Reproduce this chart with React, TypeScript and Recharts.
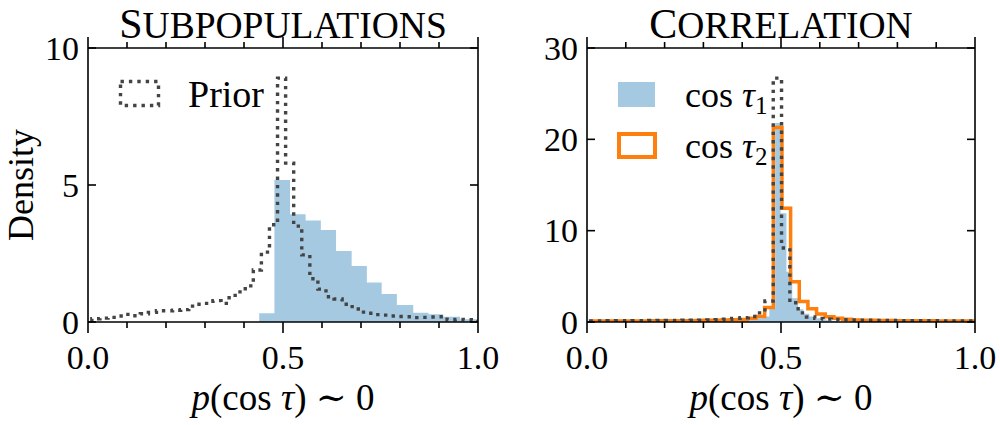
import React from 'react';
import { ComposedChart, Area, Line, XAxis, YAxis } from 'recharts';

const FONT = '"Liberation Serif", "DejaVu Serif", serif';
const BLUE_FILL = '#a5c9e1';
const ORANGE = '#ff7f0e';
const PRIOR_GREY = '#444444';

// ---------- shared ticks ----------
const xTicks = [0, 0.1, 0.2, 0.3, 0.4, 0.5, 0.6, 0.7, 0.8, 0.9, 1.0];
const xMajorTicks = [0, 0.5, 1.0];
const xTickLabels = ['0.0', '0.5', '1.0'];
const xAxisLabel = ['p', '(cos ', 'τ', ') ∼ 0'];

// ---------- left panel: Subpopulations ----------
const subTitle = ['S', 'UBPOPULATIONS'];
const subYTicks = [0, 5, 10];
const subYTickLabels = ['0', '5', '10'];
const subLegend = ['Prior'];

const subPosteriorEdges = [0.439, 0.478, 0.518, 0.558, 0.597, 0.636, 0.676, 0.715, 0.753, 0.792, 0.834, 0.873, 0.911, 0.954, 1.0];
const subPosteriorDensity = [0.32, 5.18, 3.93, 3.7, 3.36, 2.59, 2.04, 1.44, 1.02, 0.62, 0.34, 0.28, 0.19, 0.1];

const subPriorEdges = [
  0.0099, 0.0306, 0.0513, 0.072, 0.0927, 0.1134, 0.1341, 0.1548, 0.1755, 0.1962,
  0.2169, 0.2376, 0.2583, 0.279, 0.2997, 0.3204, 0.3411, 0.3618, 0.3825, 0.4032,
  0.4239, 0.4446, 0.4653, 0.486, 0.5067, 0.5274, 0.5481, 0.5688, 0.5895, 0.6102,
  0.6309, 0.6516, 0.6723, 0.693, 0.7137, 0.7344, 0.7551, 0.7758, 0.7965, 0.8172,
  0.8379, 0.8586, 0.8793, 0.9, 0.9207, 0.9414, 0.9621, 0.9828, 1.0,
];
const subPriorDensity = [
  0.12, 0.14, 0.17, 0.22, 0.28, 0.23, 0.3, 0.35, 0.41, 0.41,
  0.43, 0.45, 0.58, 0.65, 0.68, 0.78, 0.68, 0.97, 1.1, 1.32,
  1.9, 2.55, 3.55, 8.9, 5.8, 3.5, 2.45, 1.58, 1.2, 0.92,
  0.84, 0.65, 0.56, 0.36, 0.32, 0.27, 0.25, 0.22, 0.2, 0.19,
  0.16, 0.17, 0.18, 0.19, 0.08, 0.09, 0.08, 0.07,
];

// ---------- right panel: Correlation ----------
const corTitle = ['C', 'ORRELATION'];
const corYTicks = [0, 10, 20, 30];
const corYTickLabels = ['0', '10', '20', '30'];
const corLegend = ['1', '2'];

const corTau1Edges = [0.396, 0.411, 0.426, 0.441, 0.455, 0.47, 0.485, 0.499, 0.514, 0.529, 0.544, 0.558, 0.573, 0.588, 0.602, 0.617, 0.632, 0.647];
const corTau1Density = [0.2, 0.25, 0.3, 0.4, 0.6, 1.5, 21.8, 11.9, 5.5, 2.6, 1.4, 0.9, 0.6, 0.4, 0.3, 0.2, 0.15];

const corTau2Edges = [
  0.0119, 0.0342, 0.0565, 0.0788, 0.1011, 0.1234, 0.1457, 0.168, 0.1903, 0.2126,
  0.2349, 0.2572, 0.2795, 0.3018, 0.3241, 0.3464, 0.3687, 0.391, 0.4133, 0.4356,
  0.4579, 0.4802, 0.5025, 0.5248, 0.5471, 0.5694, 0.5917, 0.614, 0.6363, 0.6586,
  0.6809, 0.7032, 0.7255, 0.7478, 0.7701, 0.7924, 0.8147, 0.837, 0.8593, 0.8816,
  0.9039, 0.9262, 0.9485, 0.9708, 0.9931, 1.0,
];
const corTau2Density = [
  0.1, 0.1, 0.12, 0.1, 0.12, 0.12, 0.12, 0.13, 0.14, 0.14,
  0.15, 0.15, 0.16, 0.18, 0.2, 0.22, 0.25, 0.28, 0.4, 0.6,
  1.6, 21.3, 12.45, 4.4, 2.25, 1.45, 0.88, 0.58, 0.4, 0.3,
  0.22, 0.2, 0.18, 0.17, 0.16, 0.15, 0.15, 0.14, 0.13, 0.13,
  0.12, 0.12, 0.12, 0.11, 0.1,
];

const corPriorEdges = [
  0.0092, 0.0306, 0.052, 0.0734, 0.0948, 0.1162, 0.1376, 0.159, 0.1804, 0.2018,
  0.2232, 0.2446, 0.266, 0.2874, 0.3088, 0.3302, 0.3516, 0.373, 0.3944, 0.4158,
  0.4372, 0.4586, 0.48, 0.5014, 0.5228, 0.5442, 0.5656, 0.587, 0.6084, 0.6298,
  0.6512, 0.6726, 0.694, 0.7154, 0.7368, 0.7582, 0.7796, 0.801, 0.8224, 0.8438,
  0.8652, 0.8866, 0.908, 0.9294, 0.9508, 0.9722, 0.9936,
];
const corPriorDensity = [
  0.12, 0.12, 0.13, 0.14, 0.14, 0.15, 0.15, 0.16, 0.17, 0.18,
  0.18, 0.19, 0.2, 0.21, 0.22, 0.25, 0.3, 0.4, 0.47, 0.6,
  1.0, 2.3, 26.7, 8.1, 2.1, 1.0, 0.55, 0.4, 0.32, 0.28,
  0.24, 0.22, 0.2, 0.19, 0.18, 0.17, 0.16, 0.15, 0.15, 0.14,
  0.13, 0.13, 0.12, 0.12, 0.12, 0.11,
];

// ---------- helpers ----------
type Row = { x: number; [k: string]: number };

function stepRows(key: string, edges: number[], values: number[], closed: boolean): Row[] {
  const rows: Row[] = [];
  if (closed) rows.push({ x: edges[0], [key]: 0 });
  values.forEach((v, i) => rows.push({ x: edges[i], [key]: v }));
  rows.push({ x: edges[edges.length - 1], [key]: values[values.length - 1] });
  if (closed) rows.push({ x: edges[edges.length - 1], [key]: 0 });
  return rows;
}

const isMajor = (v: number) => xMajorTicks.findIndex((m) => Math.abs(m - v) < 1e-6);

const XTickBottom = (props: any) => {
  const { x, y, payload } = props;
  const idx = isMajor(payload.value);
  return (
    <g>
      <line x1={x} y1={y} x2={x} y2={y + (idx >= 0 ? 11 : 6)} stroke="#000" strokeWidth={1.6} />
      {idx >= 0 && (
        <text x={x} y={y + 47} textAnchor="middle" style={{ fontFamily: FONT }} fontSize={34} fill="#000">
          {xTickLabels[idx]}
        </text>
      )}
    </g>
  );
};

const XTickTop = (props: any) => {
  const { x, y, payload } = props;
  const idx = isMajor(payload.value);
  return <line x1={x} y1={y} x2={x} y2={y - (idx >= 0 ? 11 : 6)} stroke="#000" strokeWidth={1.6} />;
};

const makeYTickLeft = (ticks: number[], labels: string[]) => (props: any) => {
  const { x, y, payload } = props;
  const idx = ticks.indexOf(payload.value);
  return (
    <g>
      <line x1={x} y1={y} x2={x + 8} y2={y} stroke="#000" strokeWidth={1.6} />
      <text x={x - 9} y={y + 11.5} textAnchor="end" style={{ fontFamily: FONT }} fontSize={34} fill="#000">
        {idx >= 0 ? labels[idx] : ''}
      </text>
    </g>
  );
};

const YTickRight = (props: any) => {
  const { x, y } = props;
  return <line x1={x} y1={y} x2={x - 8} y2={y} stroke="#000" strokeWidth={1.6} />;
};

const axisLineStyle = { stroke: '#000', strokeWidth: 1.6 };
const AX = 10; // size reserved for every axis (must be > 0 for Recharts to draw it)

type SeriesSpec = { key: string; kind: 'fill' | 'outline' | 'dotted' };

function Panel(props: {
  rows: Row[];
  series: SeriesSpec[];
  yMax: number;
  yTicks: number[];
  yLabels: string[];
  margin: { top: number; left: number; right: number; bottom: number };
}) {
  const { rows, series, yMax, yTicks, yLabels, margin } = props;
  const YLeft = makeYTickLeft(yTicks, yLabels);
  return (
    <ComposedChart width={500} height={425} data={rows} margin={margin}>
      <XAxis
        xAxisId="b"
        dataKey="x"
        type="number"
        domain={[0, 1]}
        ticks={xTicks}
        interval={0}
        height={AX}
        tickSize={0}
        tickMargin={0}
        tickLine={false}
        axisLine={axisLineStyle}
        tick={(p: any) => <XTickBottom {...p} />}
        allowDataOverflow
      />
      <XAxis
        xAxisId="t"
        orientation="top"
        dataKey="x"
        type="number"
        domain={[0, 1]}
        ticks={xTicks}
        interval={0}
        height={AX}
        tickSize={0}
        tickMargin={0}
        tickLine={false}
        axisLine={axisLineStyle}
        tick={(p: any) => <XTickTop {...p} />}
        allowDataOverflow
      />
      <YAxis
        yAxisId="l"
        type="number"
        domain={[0, yMax]}
        ticks={yTicks}
        interval={0}
        width={AX}
        tickSize={0}
        tickMargin={0}
        tickLine={false}
        axisLine={axisLineStyle}
        tick={(p: any) => <YLeft {...p} />}
        allowDataOverflow
      />
      <YAxis
        yAxisId="r"
        orientation="right"
        type="number"
        domain={[0, yMax]}
        ticks={yTicks}
        interval={0}
        width={AX}
        tickSize={0}
        tickMargin={0}
        tickLine={false}
        axisLine={axisLineStyle}
        tick={(p: any) => <YTickRight {...p} />}
        allowDataOverflow
      />
      {series.map((s) =>
        s.kind === 'fill' ? (
          <Area
            key={s.key}
            xAxisId="b"
            yAxisId="l"
            dataKey={s.key}
            type="stepAfter"
            fill={BLUE_FILL}
            fillOpacity={1}
            stroke="none"
            connectNulls
            dot={false}
            activeDot={false}
            isAnimationActive={false}
          />
        ) : (
          <Line
            key={s.key}
            xAxisId="b"
            yAxisId="l"
            dataKey={s.key}
            type="stepAfter"
            stroke={s.kind === 'outline' ? ORANGE : PRIOR_GREY}
            strokeWidth={s.kind === 'outline' ? 3.5 : 3.4}
            strokeDasharray={s.kind === 'dotted' ? '3.4 5' : undefined}
            strokeLinecap="butt"
            strokeLinejoin="miter"
            connectNulls
            dot={false}
            activeDot={false}
            isAnimationActive={false}
          />
        )
      )}
    </ComposedChart>
  );
}

const leftRows: Row[] = [
  ...stepRows('posterior', subPosteriorEdges, subPosteriorDensity, false),
  ...stepRows('prior', subPriorEdges, subPriorDensity, true),
];
const rightRows: Row[] = [
  ...stepRows('tau1', corTau1Edges, corTau1Density, false),
  ...stepRows('tau2', corTau2Edges, corTau2Density, true),
  ...stepRows('prior', corPriorEdges, corPriorDensity, true),
];

const txt = { fontFamily: FONT };

function AxisLabel({ cx }: { cx: number }) {
  return (
    <text x={cx} y={410} textAnchor="middle" style={txt} fontSize={37} fill="#000">
      <tspan fontStyle="italic">{xAxisLabel[0]}</tspan>
      <tspan>{xAxisLabel[1]}</tspan>
      <tspan fontStyle="italic">{xAxisLabel[2]}</tspan>
      <tspan>{xAxisLabel[3]}</tspan>
    </text>
  );
}

export default function App() {
  return (
    <div style={{ position: 'absolute', left: 0, top: 0, width: 1000, height: 425, background: '#fff', overflow: 'hidden' }}>
      <div style={{ position: 'absolute', left: 0, top: 0 }}>
        <Panel
          rows={leftRows}
          series={[
            { key: 'posterior', kind: 'fill' },
            { key: 'prior', kind: 'dotted' },
          ]}
          yMax={10}
          yTicks={subYTicks}
          yLabels={subYTickLabels}
          margin={{ top: 48 - AX, left: 88 - AX, right: 22 - AX, bottom: 103 - AX }}
        />
      </div>
      <div style={{ position: 'absolute', left: 500, top: 0 }}>
        <Panel
          rows={rightRows}
          series={[
            { key: 'tau1', kind: 'fill' },
            { key: 'tau2', kind: 'outline' },
            { key: 'prior', kind: 'dotted' },
          ]}
          yMax={30}
          yTicks={corYTicks}
          yLabels={corYTickLabels}
          margin={{ top: 48 - AX, left: 87 - AX, right: 25 - AX, bottom: 103 - AX }}
        />
      </div>
      <svg width={1000} height={425} style={{ position: 'absolute', left: 0, top: 0, pointerEvents: 'none' }}>
        {/* titles */}
        <text x={283} y={38} textAnchor="middle" style={txt} fill="#000">
          <tspan fontSize={42}>{subTitle[0]}</tspan>
          <tspan fontSize={37.5}>{subTitle[1]}</tspan>
        </text>
        <text x={781} y={38} textAnchor="middle" style={txt} fill="#000">
          <tspan fontSize={42}>{corTitle[0]}</tspan>
          <tspan fontSize={37.5}>{corTitle[1]}</tspan>
        </text>
        {/* y label */}
        <text x={33} y={185} transform="rotate(-90 33 185)" textAnchor="middle" style={txt} fontSize={36} fill="#000">
          Density
        </text>
        {/* x labels */}
        <AxisLabel cx={283} />
        <AxisLabel cx={781} />
        {/* left legend */}
        <rect x={120.5} y={81.5} width={38} height={24} fill="none" stroke={PRIOR_GREY} strokeWidth={3.4} strokeDasharray="3.4 5" />
        <text x={188} y={107} style={txt} fontSize={38} fill="#000">
          {subLegend[0]}
        </text>
        {/* right legend */}
        <rect x={618} y={82} width={37} height={25} fill={BLUE_FILL} />
        <text x={685} y={107} style={txt} fontSize={36} fill="#000">
          <tspan>cos </tspan>
          <tspan fontStyle="italic">τ</tspan>
          <tspan fontSize={25} dy={7}>{corLegend[0]}</tspan>
        </text>
        <rect x={619} y={134} width={36} height={23} fill="none" stroke={ORANGE} strokeWidth={4} />
        <text x={685} y={158} style={txt} fontSize={36} fill="#000">
          <tspan>cos </tspan>
          <tspan fontStyle="italic">τ</tspan>
          <tspan fontSize={25} dy={7}>{corLegend[1]}</tspan>
        </text>
      </svg>
    </div>
  );
}
